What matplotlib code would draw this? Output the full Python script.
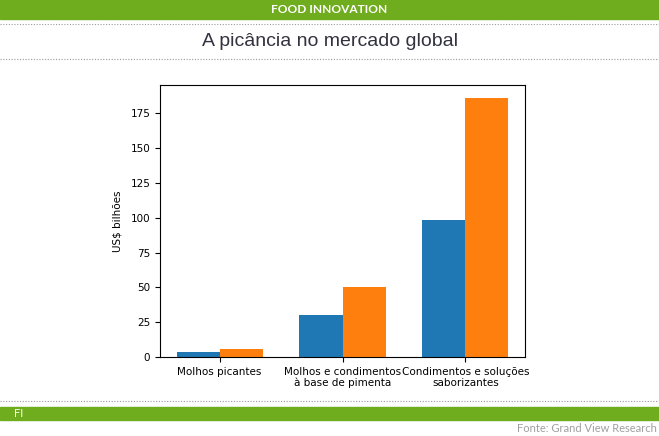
import numpy as np
import matplotlib
matplotlib.use("Agg")
import matplotlib.pyplot as plt
from matplotlib.patches import Rectangle
from matplotlib.lines import Line2D

# data
categories = ["Molhos picantes",
              "Molhos e condimentos\nà base de pimenta",
              "Condimentos e soluções\nsaborizantes"]
valores_antes = [3.3, 30.0, 98.6]
valores_depois = [5.9, 50.0, 186.0]

W, H = 659, 436
green = "#70ad1e"

fig = plt.figure(figsize=(W / 100, H / 100), dpi=100)

# helpers in pixel coords (top-left origin)
def fx(px):
    return px / W

def fy(py):
    return 1 - py / H

# header band
fig.patches.append(Rectangle((0, fy(19)), 1, 19 / H, transform=fig.transFigure,
                             color=green, zorder=0))
fig.text(0.5, fy(9.5), "FOOD INNOVATION", color="white", fontsize=8.6,
         fontweight="bold", ha="center", va="center", family="Lato")

# dotted separators
for py in [24, 59, 401]:
    fig.lines.append(Line2D([0, 1], [fy(py), fy(py)], transform=fig.transFigure,
                            color="#999999", lw=0.8, ls=(0, (1, 1.5))))

fig.text(0.5, fy(42), "A picância no mercado global", color="#333340",
         fontsize=14, ha="center", va="center", family="Liberation Sans")

# footer band
fig.patches.append(Rectangle((0, fy(420)), 1, 13 / H, transform=fig.transFigure,
                             color=green, zorder=0))
fig.text(fx(14), fy(413.5), "FI", color="white", fontsize=8, ha="left",
         va="center", family="Lato")
fig.text(fx(657), fy(428.5), "Fonte: Grand View Research", color="#a0a0a0",
         fontsize=8, ha="right", va="center", family="Lato")

# chart
ax = fig.add_axes([fx(160), fy(357), (525 - 160) / W, (357 - 85) / H])
x = np.arange(len(categories))
w = 0.35
ax.bar(x - w / 2, valores_antes, w, color="#1f77b4")
ax.bar(x + w / 2, valores_depois, w, color="#ff7f0e")
ax.set_xticks(x)
ax.set_xticklabels(categories, fontsize=7.5, linespacing=1.15)
ax.tick_params(axis="y", labelsize=7.5)
ax.set_ylabel("US$ bilhões", fontsize=7.5, labelpad=6)

fig.savefig("out.png", dpi=100)
